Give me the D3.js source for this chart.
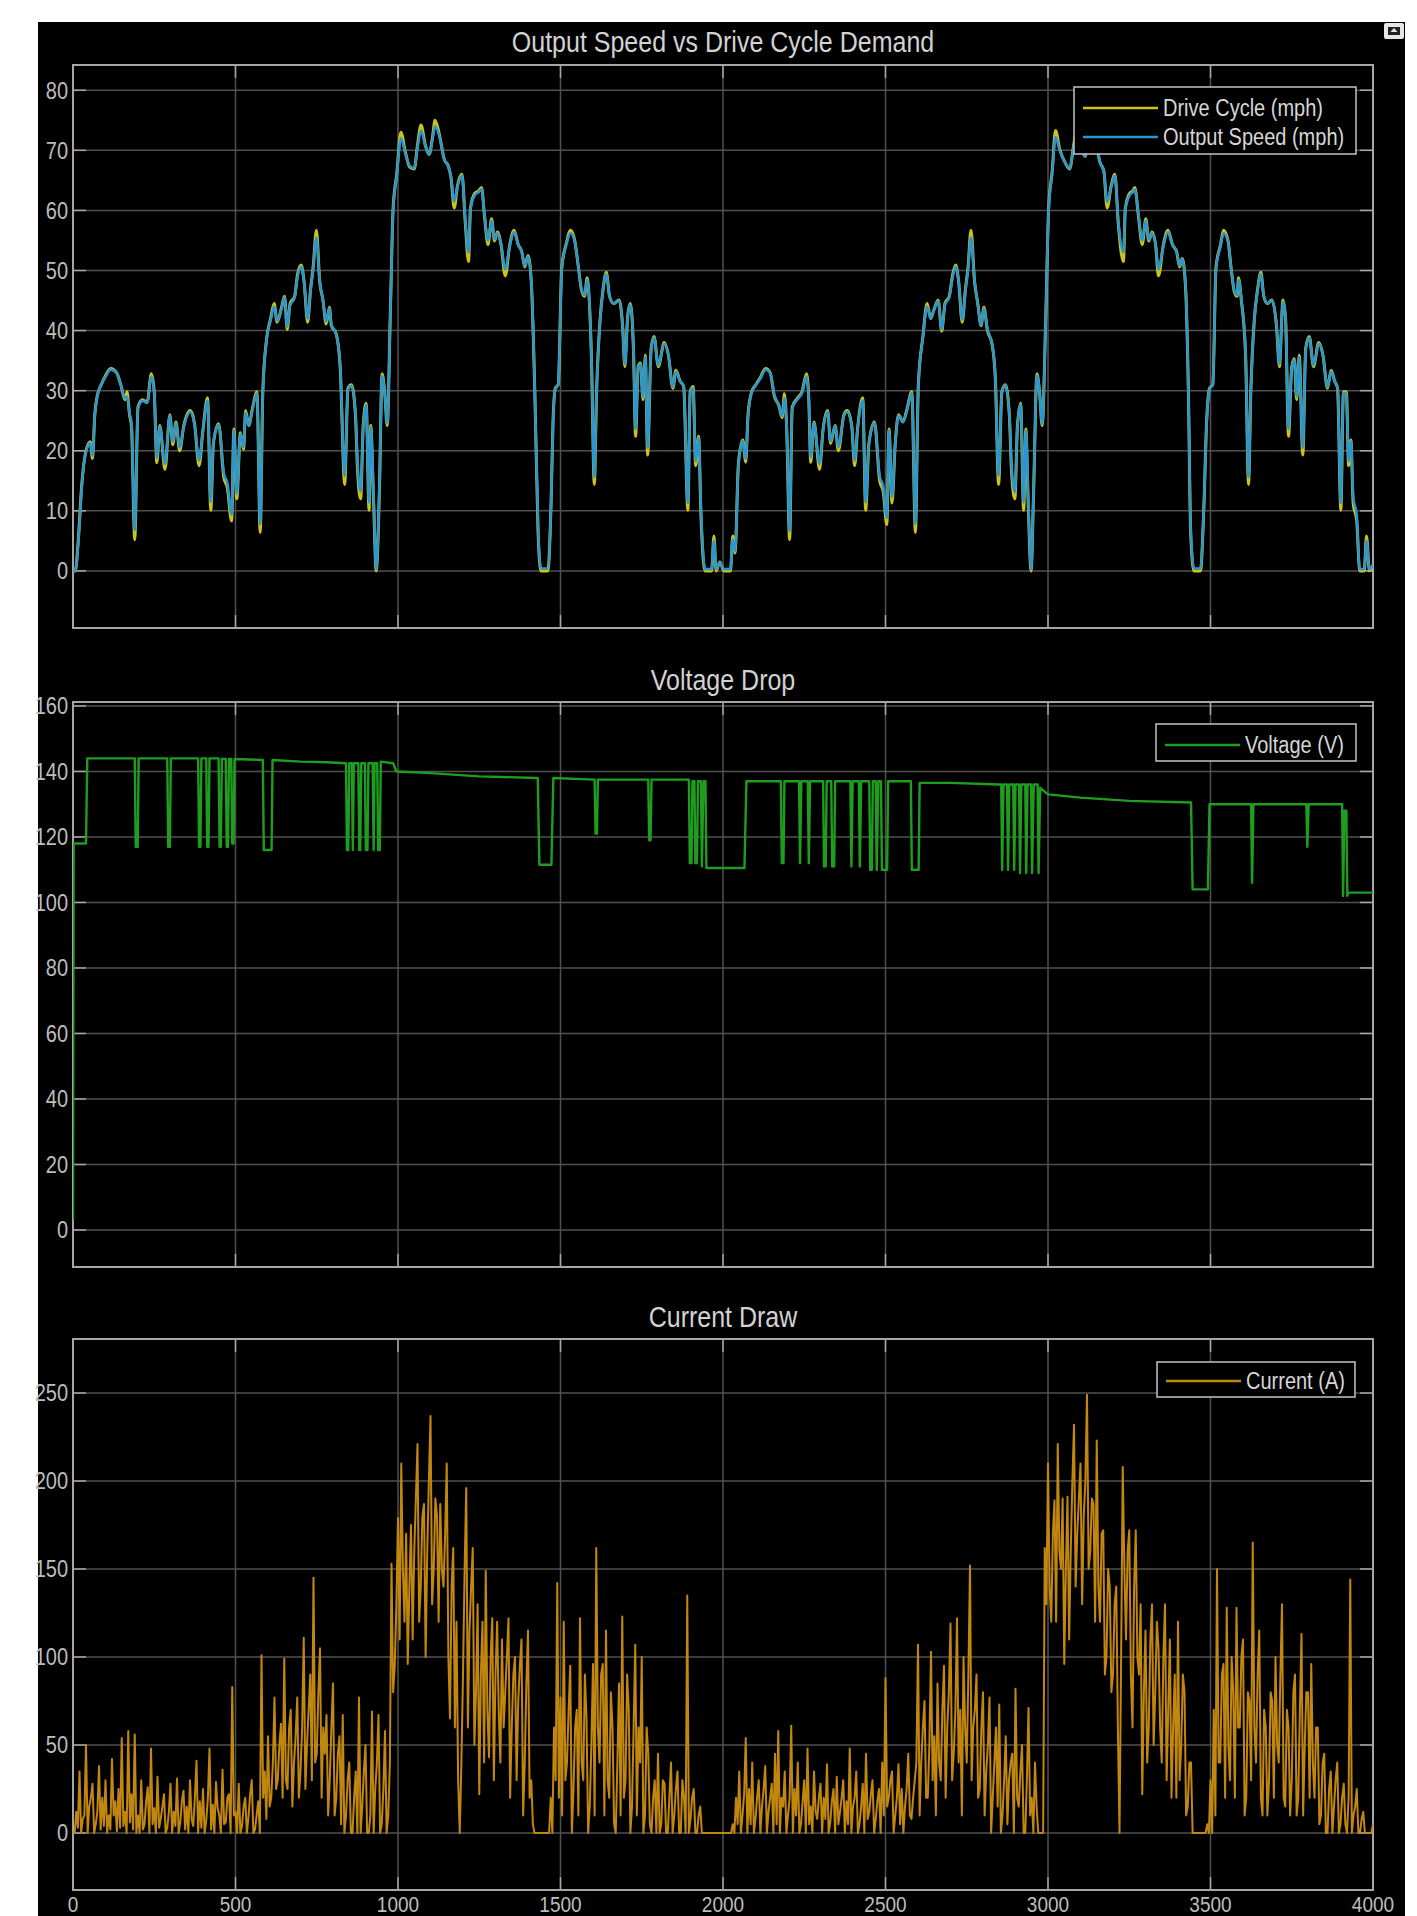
<!DOCTYPE html>
<html lang="en">
<head>
<meta charset="UTF-8">
<title>Output Speed vs Drive Cycle Demand</title>
<script src="https://d3js.org/d3.v7.min.js"></script>
<style>
    body { margin: 0; background: #fff; }
    svg text { font-family: 'Liberation Sans', Arial, sans-serif; }
</style>
</head>
<body>
<svg id="chart" width="1417" height="1916"></svg>
<script>
// ---- data ----
const timeTicks = [0, 500, 1000, 1500, 2000, 2500, 3000, 3500, 4000];
const speedTicks = [0, 10, 20, 30, 40, 50, 60, 70, 80];
const voltTicks = [0, 20, 40, 60, 80, 100, 120, 140, 160];
const currentTicks = [0, 50, 100, 150, 200, 250];

// drive cycle / output speed (mph), sampled at irregular times (s)
const driveTime = [
    0,7,17,27,40,53,60,67,74,87,100,116,134,147,160,166,174,180,190,200,
    214,228,241,250,258,267,283,298,307,317,328,341,361,374,388,399,414,424,432,448,
    464,475,488,495,504,515,525,531,541,552,566,576,584,595,608,619,628,642,651,659,
    668,682,691,702,711,722,731,739,749,759,769,779,789,795,809,822,836,846,857,869,
    876,885,893,902,911,916,925,933,943,951,959,967,976,985,996,1009,1023,1036,1050,1060,
    1071,1084,1096,1106,1114,1127,1143,1154,1163,1173,1183,1197,1207,1217,1223,1237,1247,1257,1266,1277,
    1288,1297,1306,1317,1330,1344,1357,1370,1381,1390,1400,1410,1421,1431,1440,1461,1471,1477,1484,1493,
    1504,1517,1531,1544,1555,1564,1574,1582,1588,1595,1604,1611,1622,1631,1641,1651,1664,1680,1691,1698,
    1707,1715,1725,1731,1739,1746,1754,1761,1768,1779,1788,1801,1819,1832,1846,1855,1868,1879,1892,1899,
    1908,1916,1925,1932,1945,1965,1972,1979,1990,2003,2023,2030,2037,2047,2054,2061,2070,2077,2088,2101,
    2115,2131,2145,2158,2172,2182,2189,2196,2205,2213,2230,2243,2257,2264,2270,2280,2297,2308,2322,2331,
    2345,2355,2372,2382,2396,2405,2414,2430,2439,2449,2466,2482,2493,2504,2511,2520,2530,2540,2554,2565,
    2581,2592,2601,2615,2628,2639,2648,2662,2673,2683,2696,2707,2716,2725,2736,2746,2754,2763,2774,2784,
    2794,2803,2813,2828,2838,2848,2858,2869,2881,2888,2898,2906,2916,2925,2932,2939,2948,2956,2966,2974,
    2982,2993,3002,3013,3023,3036,3054,3067,3078,3089,3102,3114,3124,3132,3145,3160,3172,3182,3194,3206,
    3216,3232,3238,3252,3260,3267,3278,3290,3301,3310,3320,3331,3340,3355,3369,3383,3396,3405,3413,3423,
    3432,3439,3449,3469,3480,3488,3497,3507,3517,3531,3540,3554,3563,3574,3582,3586,3595,3608,3617,3624,
    3635,3645,3655,3664,3675,3689,3703,3712,3723,3731,3740,3750,3758,3765,3773,3784,3793,3804,3817,3833,
    3846,3860,3871,3882,3891,3901,3909,3918,3925,3932,3939,3950,3959,3973,3980,3989,4000
];
const driveCycle = [
    0,0,5.8,14.4,20,21.5,18.7,26,29,31,32.5,33.7,33,31,28.5,29.8,26,24,5.2,27.3,
    28.5,28,32.8,29.8,18,24.2,16.9,26,21,24.8,20,24.2,26.7,24.5,17.5,23,28.8,10.1,21.2,24.5,
    15.6,13.8,8.3,23.6,12,23,20.2,26.7,24.2,27,29.8,6.4,29.8,38.3,42,44.5,41.4,43.9,45.7,40.2,
    44.5,45.7,49.4,50.9,48.2,41.4,46.9,50.6,56.7,48.2,45.1,41.1,43.9,40.8,39.6,34,14.4,30.4,31,26,
    16.3,12,24.2,27.9,10.1,24.2,11.3,0,13.8,32.8,29.8,24.2,42,60.4,66,73,69.6,67.2,66.9,70.9,
    74.2,70.9,69.3,72.1,75,72.7,68.4,67.5,65.5,60.4,64.1,66,58,51.5,60.4,62.9,63.2,63.8,59.2,54.3,
    58.6,54.9,56.4,54.3,49.1,54.3,56.7,54.3,53.1,50.6,52.5,48.2,29.8,6.4,0,0,11.3,24.8,30.4,31,
    50.6,54.3,56.7,54.9,50.6,46.9,45.7,48.8,45.5,35.9,14.4,29.8,42,46.9,49.7,45.7,44.5,45.1,40.8,34,
    42.6,44.5,35.9,22.4,34,34.6,28.5,35.9,19.3,37.1,39,34,38,35.9,30.4,33.4,31.6,30.7,10.1,29.8,
    30.7,17.5,22.4,9.5,0,0,5.8,0,1.5,0,0,5.8,3,17.5,20.6,21.8,18.1,26,29.8,31,
    32.2,33.7,33,29.1,27.5,25.5,29.5,23.6,5.2,27.3,28.8,29.8,32.8,28.5,18.1,24.8,16.9,23.6,26.7,21.2,
    24.2,20,26,26.7,24.2,17.5,23.6,28.8,10.1,21.2,24.8,15,13.2,7.7,23.6,11.3,21.2,26,24.8,26.7,
    29.8,6.4,31,39,44.5,42,43.3,45.1,39.9,44.5,45.7,49.4,50.9,48.2,41.4,46.9,50.6,56.7,48.2,44.5,
    40.8,43.9,40.2,37.7,32,14.4,29.8,31,26,16.3,12,24.2,27.9,10.1,23.6,11.3,0,13.8,32.8,29.8,
    24.2,42,60.4,66.6,73.3,70.2,67.8,66.9,70.5,73.5,70.5,69,72,74.5,72,68,66.5,60.4,64,66,
    58,51.5,60.4,62.9,63.2,63.8,59.2,54.3,58.6,54.9,56.4,54.3,49.1,54.3,56.7,54.3,53.1,50.6,52,47.5,
    29.8,6.4,0,0,11.3,24.8,30.4,31,50.6,54.3,56.7,54.9,50.6,46.3,45.7,48.8,45,35.9,14.4,29.8,
    42,46.9,49.7,45.7,44.5,45.1,40.8,34,45.1,42,22.4,34,35.3,28.5,35.9,19.3,37.1,39,34,38,
    35.9,30.4,33.4,31.6,30.4,10.1,29.8,29.8,17.5,21.8,11.3,8.3,0,0,5.8,0,1
];
const outputSpeed = [
    0,0,5.2,14,19.8,21.3,19.2,25.8,28.8,31,32.3,33.5,33,31,28.7,29,26.2,24.5,6.8,27,
    28.3,28,32.3,29.6,18.8,24,17.8,25.8,21.5,24.6,20.5,24,26.5,24.3,18.4,23,28.3,11.5,21.4,24.3,
    16.3,14.6,9.4,23.4,12.8,22.8,20.6,26.3,24.2,26.8,29.5,7.8,29.5,38.2,41.7,44,41.6,43.7,45.5,40.6,
    44.2,45.5,49,50.6,48,42,46.7,50.2,55.5,48.4,45,41.5,43.7,41,39.6,34.2,15.8,30.2,30.8,26.3,
    17.2,13.2,24,27.6,11.4,24,12.4,0.3,14.2,32.4,29.8,24.6,41.5,60,65.6,72,69.4,67.4,67,70.5,
    73.3,70.7,69.3,71.8,74,72.4,68.4,67.4,65.6,61.5,64,65.8,58.4,53,60.2,62.6,63,63.5,59.4,55,
    58.3,55.2,56.2,54.4,50.2,54.1,56.4,54.3,53.1,50.8,52.3,48.4,30,7.2,0.4,0.4,11.2,24.5,30.2,31,
    50.3,54.1,56.2,54.8,50.6,47,45.9,48.5,45.7,36.2,15.6,29.6,41.8,46.7,49.4,45.8,44.5,45,41,34.4,
    42.4,44.3,36.2,23.6,33.8,34.4,29,35.6,20.5,36.9,38.8,34.2,37.8,35.9,30.6,33.2,31.6,30.8,11.3,29.6,
    30.4,18.2,22.2,10.5,0.3,0.3,5,0.3,1.4,0.3,0.3,5.2,3.2,17.2,20.4,21.6,18.6,25.8,29.6,30.9,
    32,33.5,33,29.3,27.6,25.8,28.8,23.8,6.6,27,28.6,29.6,32.4,28.6,18.9,24.6,17.8,23.5,26.5,21.6,
    24.1,20.6,25.8,26.5,24.2,18.4,23.5,28.4,11.4,21.3,24.6,15.8,14,8.8,23.4,12.3,21.2,25.8,24.8,26.5,
    29.6,7.8,30.8,38.8,44,42,43.2,44.9,40.2,44.3,45.5,49,50.6,48.2,41.8,46.7,50.2,55.5,48.4,44.4,
    40.9,43.7,40.4,37.7,32.2,15.8,29.6,30.9,26.2,17.2,13.1,24,27.7,11.4,23.4,12.4,0.3,14,32.5,29.8,
    24.5,41.6,60,66.2,72.2,70,67.8,67,70.3,72.6,70.4,69,71.6,73.6,71.8,68,66.4,61.4,63.8,65.8,
    58.4,53,60.2,62.6,63,63.5,59.4,55,58.3,55.1,56.2,54.4,50.2,54.1,56.4,54.3,53.1,50.8,51.9,47.7,
    30,7.2,0.4,0.4,11.2,24.5,30.2,31,50.3,54.1,56.2,54.8,50.6,46.5,45.9,48.5,45.2,36.2,15.6,29.6,
    41.8,46.7,49.4,45.8,44.5,45,41,34.4,44.8,42,23.6,33.8,35.1,29,35.6,20.5,36.9,38.8,34.2,37.8,
    35.9,30.6,33.2,31.6,30.4,11.3,29.6,29.6,18.2,21.6,12.3,9.2,0.3,0.3,5,0.3,1
];

// battery voltage (V), step-like trace
const voltTime = [
    0,2,40,44, 190,193,199,202, 290,293,298,301, 385,388,392,395, 410,413,417,420,
    448,451,455,458, 470,473,477,480, 487,490,494,497, 584,587,611,614, 700,780,840,
    843,847,850, 858,861,864, 878,881,884,887, 898,901,906,909, 922,925,928, 936,939,944,947,
    985,995,1100,1250,1430, 1435,1472,1478, 1605,1608,1612,1615, 1770,1773,1777,1780,
    1895,1898,1903,1906,1912,1915,1920,1923,1932,1935,1940,1946,1949, 2066,2072,
    2178,2181,2186,2189, 2234,2237,2241, 2261,2264,2268, 2308,2311,2316,2319,2333,2336,2342,2345,
    2392,2395,2399,2418,2421,2425, 2450,2453,2458,2461,2470,2473,2478, 2486,2489,2505,2508,
    2578,2581,2602,2605, 2700,2850,
    2856,2859,2863,2874,2877,2881,2893,2896,2900,2911,2914,2918,2930,2933,2937,2948,2951,2956,2968,2971,2976,
    3000,3100,3250,3440, 3445,3492,3497, 3625,3628,3632, 3795,3798,3802,
    3905,3908,3912,3918,3921,3925,3935,4000
];
const voltage = [
    3,118,118,144, 144,117,117,144, 144,117,117,144, 144,117,117,144, 144,117,117,144,
    144,117,117,143.8, 143.8,117,117,143.8, 143.8,118,118,143.8, 143.5,116,116,143.5, 143,142.8,142.5,
    116,116,142.5, 142.5,116,142.5, 142.5,116,116,142.5, 142.5,116,116,142.5, 142.5,116,142.5, 142.5,116,116,143,
    142.5,140,139.5,138.5,138, 111.5,111.5,138, 137.5,121,121,137.5, 137.5,119,119,137.5,
    137.5,112,112,137,137,112,112,137,137,111,137,137,110.5, 110.5,137,
    137,112,112,137, 137,112,137, 137,112,137, 137,111,111,137,137,111,111,137,
    137,111,137,137,111,137, 137,110,110,137,137,110,137, 137,110,110,137,
    137,110,110,136.5, 136.5,136,
    136,110,136,136,110,136,136,110,136,136,109,136,136,109,136,136,109,136,136,109,135,
    133,132,131,130.5, 104,104,130, 130,106,130, 130,117,130,
    130,102,128,128,102,103,103,103
];

// current draw (A), one reading every 5 s from t = 0
const currentStep = 5;
const current = [
    0,0,12,3,35,0,8,10,50,0,15,20,28,0,5,12,38,2,20,4,30,0,10,2,42,10,18,1,25,3,54,4,12,0,58,6,22,2,56,0,
    10,0,30,2,5,18,26,0,48,5,14,0,32,3,8,15,22,0,3,12,28,0,12,4,31,0,6,18,24,2,15,0,30,8,4,20,41,0,18,3,
    25,0,7,20,48,2,16,0,29,14,10,0,36,5,6,20,22,0,83,10,12,0,28,0,4,15,20,0,9,22,30,0,2,10,18,0,101,20,35,8,
    55,15,20,40,77,25,30,50,62,20,99,30,25,60,70,15,40,55,77,20,35,60,111,25,50,70,90,30,145,40,45,80,105,20,60,45,67,10,30,60,
    85,10,20,45,55,5,67,0,10,30,40,0,0,20,35,0,77,0,15,35,50,0,0,10,69,0,25,40,67,0,5,25,58,0,10,40,153,80,95,130,
    179,110,210,150,120,170,96,140,175,110,160,190,221,120,140,180,187,100,160,200,237,130,150,190,180,120,187,150,140,170,210,100,65,140,162,60,120,30,0,40,
    90,150,196,60,115,140,162,50,80,130,22,90,120,40,149,70,43,100,122,30,90,120,69,40,110,60,80,100,122,20,60,90,100,30,75,95,110,10,40,85,
    115,20,30,5,0,0,0,0,0,0,0,0,0,0,20,0,60,30,142,20,77,10,120,30,40,70,95,0,25,60,70,10,122,40,30,90,65,0,15,50,
    96,10,162,60,40,90,96,10,115,30,20,80,60,5,0,40,85,10,123,20,30,90,70,0,15,60,107,10,60,40,100,0,10,60,45,5,0,20,30,0,
    45,0,5,30,28,0,0,20,40,0,10,25,35,0,0,30,20,0,135,0,8,20,25,0,0,10,15,0,0,0,0,0,0,0,0,0,0,0,0,0,
    0,0,0,0,0,0,5,0,20,5,35,0,10,22,54,0,25,5,40,0,8,20,30,0,15,25,38,0,12,20,28,0,45,5,58,0,20,15,35,0,
    10,20,61,0,25,10,40,0,5,18,30,0,48,5,15,0,35,12,8,20,28,0,20,8,39,0,6,18,25,0,32,5,12,20,30,0,18,5,48,0,
    15,20,35,0,5,15,28,0,45,8,12,22,30,0,8,18,25,0,40,10,88,15,20,30,35,0,10,20,39,5,25,0,15,25,45,10,8,20,30,40,
    107,10,40,60,75,20,20,50,103,30,55,10,85,40,30,70,95,20,60,80,119,30,45,70,122,40,70,10,100,60,40,90,152,30,60,70,90,20,25,60,
    80,10,35,50,77,0,20,40,60,15,73,0,10,30,55,5,30,40,45,0,82,20,15,35,50,0,0,30,71,10,20,0,40,15,0,0,0,0,162,130,
    210,140,120,170,189,120,221,160,150,190,96,150,191,110,160,200,232,140,170,190,210,130,180,200,249,150,160,190,187,120,223,140,120,170,172,90,100,150,140,80,
    90,130,140,60,0,100,208,150,110,160,172,90,60,140,172,100,90,130,22,80,115,40,60,110,130,50,80,120,105,60,40,100,130,30,70,110,20,60,90,20,
    120,30,50,90,80,10,15,40,40,0,0,0,0,0,0,0,0,0,5,0,30,0,70,10,150,40,40,90,96,20,128,50,30,100,80,20,128,60,60,100,
    110,10,20,80,75,30,165,60,40,90,115,20,10,70,60,10,30,80,75,20,100,50,40,90,130,20,15,70,60,10,30,80,90,10,20,70,113,10,50,80,
    80,20,96,40,20,60,60,5,10,40,45,0,0,25,35,0,15,30,40,0,5,20,28,5,0,20,144,0,10,15,25,0,0,8,12,0,0,0,0,0,
    5
];

// ---- layout ----
const svg = d3.select("#chart");
const X0 = 73, X1 = 1373;

svg.append("rect").attr("x", 38).attr("y", 22).attr("width", 1367).attr("height", 1894).attr("fill", "#000");

const x = d3.scaleLinear().domain([0, 4000]).range([X0, X1]);

const panels = [
    { title: "Output Speed vs Drive Cycle Demand", titleY: 42, top: 65, bottom: 628, domain: [-9.5, 84.2], ticks: speedTicks },
    { title: "Voltage Drop", titleY: 680, top: 702, bottom: 1267, domain: [-11.3, 161.2], ticks: voltTicks },
    { title: "Current Draw", titleY: 1317, top: 1339, bottom: 1890, domain: [-32.4, 280.7], ticks: currentTicks }
];

const gridColor = "#505050";
const boxColor = "#a6a6a6";
const textColor = "#bdbdbd";

// matlab text looks a bit tall and narrow
function label(g, px, py, str, size, anchor, fill) {
    return g.append("text")
        .attr("transform", `translate(${px},${py}) scale(1,1.15)`)
        .attr("text-anchor", anchor)
        .attr("dy", "0.36em")
        .attr("font-size", size)
        .attr("fill", fill)
        .text(str);
}

panels.forEach((p, i) => {
    p.y = d3.scaleLinear().domain(p.domain).range([p.bottom, p.top]);
    const g = svg.append("g");

    svg.append("clipPath").attr("id", "clip" + i)
        .append("rect").attr("x", X0).attr("y", p.top).attr("width", X1 - X0).attr("height", p.bottom - p.top);

    g.selectAll(".hgrid").data(p.ticks).join("line")
        .attr("x1", X0).attr("x2", X1)
        .attr("y1", d => p.y(d)).attr("y2", d => p.y(d))
        .attr("stroke", gridColor).attr("stroke-width", 1.5);
    g.selectAll(".vgrid").data(timeTicks).join("line")
        .attr("x1", d => x(d)).attr("x2", d => x(d))
        .attr("y1", p.top).attr("y2", p.bottom)
        .attr("stroke", gridColor).attr("stroke-width", 1.5);

    // inward tick marks on all four sides
    p.ticks.forEach(v => {
        g.append("line").attr("x1", X0).attr("x2", X0 + 13).attr("y1", p.y(v)).attr("y2", p.y(v)).attr("stroke", boxColor).attr("stroke-width", 1.5);
        g.append("line").attr("x1", X1 - 13).attr("x2", X1).attr("y1", p.y(v)).attr("y2", p.y(v)).attr("stroke", boxColor).attr("stroke-width", 1.5);
        label(g, X0 - 5, p.y(v), v, 20, "end", textColor);
    });
    timeTicks.forEach(t => {
        g.append("line").attr("x1", x(t)).attr("x2", x(t)).attr("y1", p.top).attr("y2", p.top + 13).attr("stroke", boxColor).attr("stroke-width", 1.5);
        g.append("line").attr("x1", x(t)).attr("x2", x(t)).attr("y1", p.bottom - 13).attr("y2", p.bottom).attr("stroke", boxColor).attr("stroke-width", 1.5);
    });

    g.append("rect").attr("x", X0).attr("y", p.top).attr("width", X1 - X0).attr("height", p.bottom - p.top)
        .attr("fill", "none").attr("stroke", boxColor).attr("stroke-width", 2);

    label(g, (X0 + X1) / 2, p.titleY, p.title, 25, "middle", "#d2d2d2");
    p.g = svg.append("g").attr("clip-path", `url(#clip${i})`);
});

// time labels only under the last plot
timeTicks.forEach(t => label(svg, x(t), 1904, t, 19, "middle", textColor));

// ---- series ----
const speedRows = driveTime.map((t, i) => ({ t, dc: driveCycle[i], os: outputSpeed[i] }));
const ySpeed = panels[0].y;
panels[0].g.append("path").datum(speedRows)
    .attr("fill", "none").attr("stroke", "#cdc416").attr("stroke-width", 3).attr("stroke-linejoin", "round")
    .attr("d", d3.line().defined(d => d.dc != null).x(d => x(d.t)).y(d => ySpeed(d.dc)).curve(d3.curveMonotoneX));
panels[0].g.append("path").datum(speedRows)
    .attr("fill", "none").attr("stroke", "#2b96d2").attr("stroke-width", 2.6).attr("stroke-linejoin", "round")
    .attr("d", d3.line().defined(d => d.os != null).x(d => x(d.t)).y(d => ySpeed(d.os)).curve(d3.curveMonotoneX));

const voltRows = voltTime.map((t, i) => ({ t, v: voltage[i] }));
const yVolt = panels[1].y;
panels[1].g.append("path").datum(voltRows)
    .attr("fill", "none").attr("stroke", "#1f9d1f").attr("stroke-width", 2.4).attr("stroke-linejoin", "round")
    .attr("d", d3.line().x(d => x(d.t)).y(d => yVolt(d.v)));

const yCur = panels[2].y;
panels[2].g.append("path").datum(current)
    .attr("fill", "none").attr("stroke", "#c2870f").attr("stroke-width", 2).attr("stroke-linejoin", "round")
    .attr("d", d3.line().x((d, i) => x(i * currentStep)).y(d => yCur(d)));

// ---- legends ----
function legend(bx, by, bw, bh, items) {
    const g = svg.append("g");
    g.append("rect").attr("x", bx).attr("y", by).attr("width", bw).attr("height", bh)
        .attr("fill", "#000").attr("stroke", "#c4c4c4").attr("stroke-width", 1.5);
    items.forEach(it => {
        g.append("line").attr("x1", bx + 9).attr("x2", bx + 84).attr("y1", it.y).attr("y2", it.y)
            .attr("stroke", it.color).attr("stroke-width", 2.5);
        label(g, bx + 89, it.y, it.name, 20, "start", "#d6d6d6");
    });
}
legend(1074, 87, 282, 67, [
    { name: "Drive Cycle (mph)", color: "#cdc416", y: 108 },
    { name: "Output Speed (mph)", color: "#2b96d2", y: 137 }
]);
legend(1156, 724, 200, 37, [{ name: "Voltage (V)", color: "#1f9d1f", y: 745 }]);
legend(1157, 1362, 198, 35, [{ name: "Current (A)", color: "#c2870f", y: 1381 }]);

// little dock/undock button in the corner
const btn = svg.append("g");
btn.append("rect").attr("x", 1384).attr("y", 23).attr("width", 20).attr("height", 16).attr("rx", 2).attr("fill", "#e6e6e6");
btn.append("rect").attr("x", 1388).attr("y", 27).attr("width", 12).attr("height", 8).attr("fill", "#222");
btn.append("path").attr("d", "M1394 28 L1397.5 32 L1390.5 32 Z").attr("fill", "#e6e6e6");
</script>
</body>
</html>
